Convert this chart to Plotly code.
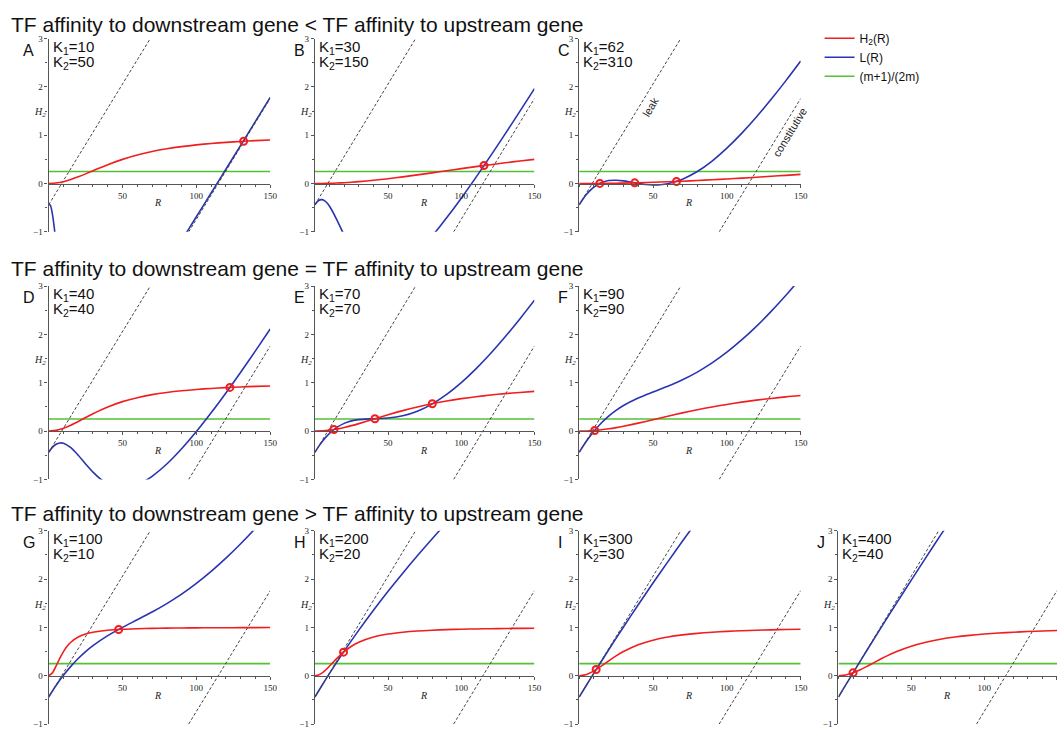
import plotly.graph_objects as go

# ---------------- data ----------------
ROW_TITLES = [
    "TF affinity to downstream gene < TF affinity to upstream gene",
    "TF affinity to downstream gene = TF affinity to upstream gene",
    "TF affinity to downstream gene > TF affinity to upstream gene",
]
PANEL_LETTERS = ["A", "B", "C", "D", "E", "F", "G", "H", "I", "J"]
K1_VALUES = [10, 30, 62, 40, 70, 90, 100, 200, 300, 400]
K2_VALUES = [50, 150, 310, 40, 70, 90, 10, 20, 30, 40]

X_TICKS = [50, 100, 150]
Y_TICKS = [-1, 0, 1, 2, 3]

R_BASE = [0, 5, 10, 15, 20, 25, 30, 40, 50, 60, 70, 80, 90, 100, 110, 120, 130, 140, 150]
R_FINE = [0, 2.5, 5, 7.5, 10, 12.5, 15, 20, 25, 30, 40, 50, 60, 70, 80, 90, 100, 110, 120, 130, 140, 150]

# red curves H2(R)
H2_A = [0, 0.0099, 0.0385, 0.0826, 0.138, 0.2, 0.265, 0.390, 0.5, 0.590, 0.662, 0.719, 0.764, 0.8, 0.829, 0.852, 0.871, 0.887, 0.9]
H2_B = [0, 0.0011, 0.0044, 0.0099, 0.0175, 0.027, 0.0385, 0.0664, 0.1, 0.138, 0.179, 0.221, 0.265, 0.308, 0.350, 0.390, 0.429, 0.466, 0.5]
H2_C = [0, 0.0003, 0.0010, 0.0023, 0.0041, 0.0065, 0.0093, 0.0164, 0.0254, 0.0361, 0.0485, 0.0624, 0.0777, 0.0943, 0.1118, 0.1303, 0.1496, 0.1694, 0.1897]
H2_D = [0, 0.0154, 0.0588, 0.123, 0.2, 0.281, 0.36, 0.5, 0.610, 0.692, 0.754, 0.8, 0.835, 0.862, 0.883, 0.9, 0.914, 0.925, 0.934]
H2_E = [0, 0.0051, 0.02, 0.0439, 0.0755, 0.113, 0.155, 0.246, 0.338, 0.424, 0.5, 0.566, 0.623, 0.671, 0.712, 0.746, 0.775, 0.8, 0.821]
H2_F = [0, 0.0031, 0.0122, 0.027, 0.047, 0.0716, 0.1, 0.165, 0.236, 0.308, 0.377, 0.441, 0.5, 0.552, 0.599, 0.64, 0.676, 0.708, 0.735]
H2_G = [0, 0.0588, 0.2, 0.36, 0.5, 0.61, 0.692, 0.8, 0.862, 0.9, 0.941, 0.962, 0.973, 0.98, 0.985, 0.988, 0.990, 0.992, 0.993, 0.994, 0.995, 0.996]
H2_H = [0, 0.0154, 0.0588, 0.123, 0.2, 0.281, 0.36, 0.5, 0.610, 0.692, 0.8, 0.862, 0.9, 0.925, 0.941, 0.953, 0.962, 0.968, 0.973, 0.977, 0.98, 0.983]
H2_I = [0, 0.027, 0.1, 0.2, 0.308, 0.410, 0.5, 0.64, 0.735, 0.8, 0.845, 0.877, 0.9, 0.917, 0.931, 0.941, 0.949, 0.956, 0.962]
H2_J = [0, 0.0154, 0.0588, 0.123, 0.2, 0.281, 0.36, 0.5, 0.610, 0.692, 0.754, 0.8, 0.835, 0.862, 0.883, 0.9, 0.914, 0.925, 0.934]

# blue curves L(R)
RB_A = [0, 1, 2, 3, 4, 5, None, 85, 90, 95, 100, 110, 120, 130, 140, 150]
LB_A = [-0.44, -0.443, -0.544, -0.728, -0.97, -1.25, None, -1.42, -1.175, -0.932, -0.688, -0.196, 0.296, 0.791, 1.287, 1.783]
RB_B = [0, 2.5, 5, 7.5, 10, 15, 20, 25, None, 75, 80, 85, 90, 100, 110, 120, 130, 140, 150]
LB_B = [-0.44, -0.352, -0.333, -0.377, -0.47, -0.75, -1.07, -1.362, None, -1.259, -1.087, -0.903, -0.71, -0.303, 0.127, 0.572, 1.028, 1.493, 1.964]
RB_C = [0, 2.5, 5, 7.5, 10, 15, 20, 25, 30, 35, 40, 45, 50, 55, 60, 65, 70, 80, 90, 100, 110, 120, 130, 140, 150]
LB_C = [-0.44, -0.324, -0.224, -0.142, -0.074, 0.017, 0.061, 0.069, 0.055, 0.029, 0.003, -0.019, -0.029, -0.024, -0.003, 0.035, 0.09, 0.249, 0.466, 0.732, 1.038, 1.377, 1.742, 2.129, 2.534]
RB_D = [0, 2.5, 5, 7.5, 10, 15, 20, 25, 30, 35, 40, 45, 50, 60, 65, 70, 80, 90, 100, 110, 120, 130, 140, 150]
LB_D = [-0.44, -0.336, -0.272, -0.245, -0.252, -0.344, -0.5, -0.679, -0.848, -0.988, -1.09, -1.151, -1.172, -1.109, -1.034, -0.936, -0.68, -0.366, -0.009, 0.379, 0.79, 1.219, 1.66, 2.112]
RB_E = [0, 2.5, 5, 7.5, 10, 15, 20, 25, 30, 40, 50, 60, 70, 80, 90, 100, 110, 120, 130, 140, 150]
LB_E = [-0.44, -0.322, -0.217, -0.125, -0.046, 0.077, 0.16, 0.211, 0.238, 0.256, 0.27, 0.316, 0.41, 0.558, 0.758, 1.003, 1.288, 1.606, 1.952, 2.32, 2.708]
RB_F = [0, 2.5, 5, 7.5, 10, 15, 20, 25, 30, 40, 50, 60, 70, 80, 90, 100, 110, 120, 130, 140, 150]
LB_F = [-0.44, -0.319, -0.206, -0.102, -0.005, 0.167, 0.311, 0.43, 0.53, 0.686, 0.81, 0.929, 1.063, 1.221, 1.41, 1.632, 1.886, 2.168, 2.477, 2.81, 3.163]
RB_G = [0, 5, 10, 15, 20, 25, 30, 40, 50, 60, 70, 80, 90, 100, 110, 120, 130, 140, 150]
LB_G = [-0.44, -0.203, 0.008, 0.193, 0.356, 0.498, 0.622, 0.829, 1.0, 1.157, 1.317, 1.492, 1.688, 1.91, 2.158, 2.432, 2.73, 3.05, 3.391]
RB_H = [0, 5, 10, 20, 30, 40, 50, 60, 70, 80, 90, 100]
LB_H = [-0.44, -0.193, 0.047, 0.508, 0.943, 1.356, 1.748, 2.122, 2.482, 2.829, 3.168, 3.5]
RB_I = [0, 5, 10, 20, 30, 40, 50, 60, 70, 80]
LB_I = [-0.44, -0.192, 0.054, 0.537, 1.008, 1.467, 1.917, 2.356, 2.786, 3.208]
RB_J = [0, 5, 10, 20, 30, 40, 50, 60, 70, 80]
LB_J = [-0.44, -0.191, 0.057, 0.547, 1.03, 1.508, 1.979, 2.443, 2.903, 3.356]

# intersection points (red circles)
XR_A, XH_A = [132], [0.875]
XR_B, XH_B = [115.5], [0.372]
XR_C, XH_C = [14, 37.6, 65.9], [0.002, 0.0145, 0.043]
XR_D, XH_D = [122.7], [0.904]
XR_E, XH_E = [13, 41, 80.2], [0.033, 0.255, 0.567]
XR_F, XH_F = [10.5], [0.0134]
XR_G, XH_G = [47.4], [0.957]
XR_H, XH_H = [19.55], [0.488]
XR_I, XH_I = [11.5], [0.128]
XR_J, XH_J = [10.05], [0.059]

# reference lines
LEAK_R, LEAK_H = [0, 68.8], [-0.44, 3.0]
CONST_R, CONST_H = [94.8, 150], [-1.0, 1.76]
GREEN_R, GREEN_H = [0, 150], [0.25, 0.25]

PANELS = [
    dict(rr=R_BASE, hr=H2_A, rb=RB_A, lb=LB_A, xr=XR_A, xh=XH_A),
    dict(rr=R_BASE, hr=H2_B, rb=RB_B, lb=LB_B, xr=XR_B, xh=XH_B),
    dict(rr=R_BASE, hr=H2_C, rb=RB_C, lb=LB_C, xr=XR_C, xh=XH_C),
    dict(rr=R_BASE, hr=H2_D, rb=RB_D, lb=LB_D, xr=XR_D, xh=XH_D),
    dict(rr=R_BASE, hr=H2_E, rb=RB_E, lb=LB_E, xr=XR_E, xh=XH_E),
    dict(rr=R_BASE, hr=H2_F, rb=RB_F, lb=LB_F, xr=XR_F, xh=XH_F),
    dict(rr=R_FINE, hr=H2_G, rb=RB_G, lb=LB_G, xr=XR_G, xh=XH_G),
    dict(rr=R_FINE, hr=H2_H, rb=RB_H, lb=LB_H, xr=XR_H, xh=XH_H),
    dict(rr=R_BASE, hr=H2_I, rb=RB_I, lb=LB_I, xr=XR_I, xh=XH_I),
    dict(rr=R_BASE, hr=H2_J, rb=RB_J, lb=LB_J, xr=XR_J, xh=XH_J),
]
GRID_POS = [(0, 0), (0, 1), (0, 2), (1, 0), (1, 1), (1, 2), (2, 0), (2, 1), (2, 2), (2, 3)]

# ---------------- style / layout ----------------
W, H = 1064, 732
COL_PX = [(49, 272), (317, 538), (583, 806), (844, 1064)]
ROW_PX = [(34, 230), (285, 481), (533, 729)]
TITLE_Y_PX = [19.6, 267.6, 515.6]

RED = "#f01e1e"
BLUE = "#2a34b0"
GREEN = "#55c034"
DASH = "#444444"
AXC = "#555555"
SANS = "Liberation Sans, Arial, sans-serif"
SERIF = "Liberation Serif, Times New Roman, serif"

fig = go.Figure()
layout = {}
annotations = []

for i, p in enumerate(PANELS):
    k = i + 1
    xa = "x" if k == 1 else f"x{k}"
    ya = "y" if k == 1 else f"y{k}"
    show = (k == 1)
    row, col = GRID_POS[i]
    x0, x1 = COL_PX[col]
    yt, yb = ROW_PX[row]
    xd = [x0 / W, min(x1 / W, 1.0)]
    yd = [1 - yb / H, 1 - yt / H]
    xpos = yd[0] + 0.25 * (yd[1] - yd[0])

    fig.add_trace(go.Scatter(x=GREEN_R, y=GREEN_H, mode="lines",
                             line=dict(color=GREEN, width=1.6),
                             name="(m+1)/(2m)", legendrank=3, showlegend=show,
                             xaxis=xa, yaxis=ya, hoverinfo="skip"))
    fig.add_trace(go.Scatter(x=p["rb"], y=p["lb"], mode="lines",
                             line=dict(color=BLUE, width=1.6, shape="spline", smoothing=0.8),
                             connectgaps=False, name="L(R)", legendrank=2, showlegend=show,
                             xaxis=xa, yaxis=ya, hoverinfo="skip"))
    fig.add_trace(go.Scatter(x=LEAK_R, y=LEAK_H, mode="lines",
                             line=dict(color=DASH, width=1, dash="3px,2px"),
                             showlegend=False, xaxis=xa, yaxis=ya, hoverinfo="skip"))
    fig.add_trace(go.Scatter(x=CONST_R, y=CONST_H, mode="lines",
                             line=dict(color=DASH, width=1, dash="3px,2px"),
                             showlegend=False, xaxis=xa, yaxis=ya, hoverinfo="skip"))
    fig.add_trace(go.Scatter(x=p["rr"], y=p["hr"], mode="lines",
                             line=dict(color=RED, width=1.6, shape="spline", smoothing=0.8),
                             name="H<sub>2</sub>(R)", legendrank=1, showlegend=show,
                             xaxis=xa, yaxis=ya, hoverinfo="skip"))
    fig.add_trace(go.Scatter(x=p["xr"], y=p["xh"], mode="markers",
                             marker=dict(symbol="circle-open", color=RED, size=7,
                                         line=dict(color=RED, width=2)),
                             showlegend=False, xaxis=xa, yaxis=ya, hoverinfo="skip"))

    kx = "xaxis" if k == 1 else f"xaxis{k}"
    ky = "yaxis" if k == 1 else f"yaxis{k}"
    layout[kx] = dict(domain=xd, range=[0, 150], anchor="free", position=xpos,
                      showline=True, linecolor=AXC, linewidth=1.4,
                      ticks="outside", ticklen=3, tickwidth=1, tickcolor=AXC,
                      tickmode="array", tickvals=X_TICKS,
                      tickfont=dict(family=SERIF, size=9, color="#222"),
                      showgrid=False, zeroline=False, fixedrange=True,
                      minor=dict(tickmode="linear", tick0=0, dtick=10, ticks="outside",
                                 ticklen=2, tickcolor=AXC, showgrid=False))
    layout[ky] = dict(domain=yd, range=[-1, 3], anchor=xa,
                      showline=True, linecolor=AXC, linewidth=1.4,
                      ticks="outside", ticklen=3, tickwidth=1, tickcolor=AXC,
                      tickmode="array", tickvals=Y_TICKS,
                      tickfont=dict(family=SERIF, size=9, color="#222"),
                      showgrid=False, zeroline=False, fixedrange=True,
                      minor=dict(tickmode="linear", tick0=0, dtick=0.5, ticks="outside",
                                 ticklen=2, tickcolor=AXC, showgrid=False))

    # panel letter
    annotations.append(dict(text=PANEL_LETTERS[i], xref=f"{xa} domain", yref="paper",
                            x=0, xshift=(-28 if col == 0 else -23), xanchor="left",
                            y=1 - (yt + 12) / H, yanchor="middle", showarrow=False,
                            font=dict(family=SANS, size=16, color="#111")))
    # K labels
    annotations.append(dict(text=f"K<sub>1</sub>={K1_VALUES[i]}", xref=f"{xa} domain", yref="paper",
                            x=0, xshift=2, xanchor="left",
                            y=1 - (yt + 9) / H, yanchor="middle", showarrow=False,
                            font=dict(family=SANS, size=15, color="#111")))
    annotations.append(dict(text=f"K<sub>2</sub>={K2_VALUES[i]}", xref=f"{xa} domain", yref="paper",
                            x=0, xshift=2, xanchor="left",
                            y=1 - (yt + 24) / H, yanchor="middle", showarrow=False,
                            font=dict(family=SANS, size=15, color="#111")))
    # axis labels
    annotations.append(dict(text="<i>H</i><sub><i>2</i></sub>", xref=f"{xa} domain", yref=ya,
                            x=0, xshift=-1, xanchor="right", y=1.46, yanchor="middle",
                            showarrow=False, font=dict(family=SERIF, size=10, color="#222")))
    annotations.append(dict(text="<i>R</i>", xref=xa, yref=ya, x=74, y=-0.4,
                            xanchor="center", yanchor="middle", showarrow=False,
                            font=dict(family=SERIF, size=10, color="#222")))

# line labels in panel C
annotations.append(dict(text="leak", xref="x3", yref="y3", x=48.2, y=1.59,
                        textangle=-58.7, showarrow=False,
                        font=dict(family=SANS, size=11, color="#222")))
annotations.append(dict(text="constitutive", xref="x3", yref="y3", x=142.6, y=1.07,
                        textangle=-58.7, showarrow=False,
                        font=dict(family=SANS, size=11, color="#222")))

# row titles
for t, yp in zip(ROW_TITLES, TITLE_Y_PX):
    annotations.append(dict(text=t, xref="paper", yref="paper", x=9 / W, xanchor="left",
                            y=1 - yp / H, yanchor="middle", showarrow=False,
                            font=dict(family=SANS, size=21, color="#111")))

fig.update_layout(
    width=W, height=H, autosize=False,
    margin=dict(l=0, r=0, t=0, b=0),
    paper_bgcolor="white", plot_bgcolor="white",
    showlegend=True,
    legend=dict(x=825 / W, y=1 - 19 / H, xanchor="left", yanchor="top",
                bgcolor="rgba(0,0,0,0)", font=dict(family=SANS, size=12, color="#111"),
                tracegroupgap=0),
    annotations=annotations,
    **layout,
)

fig.write_html("out.html")
